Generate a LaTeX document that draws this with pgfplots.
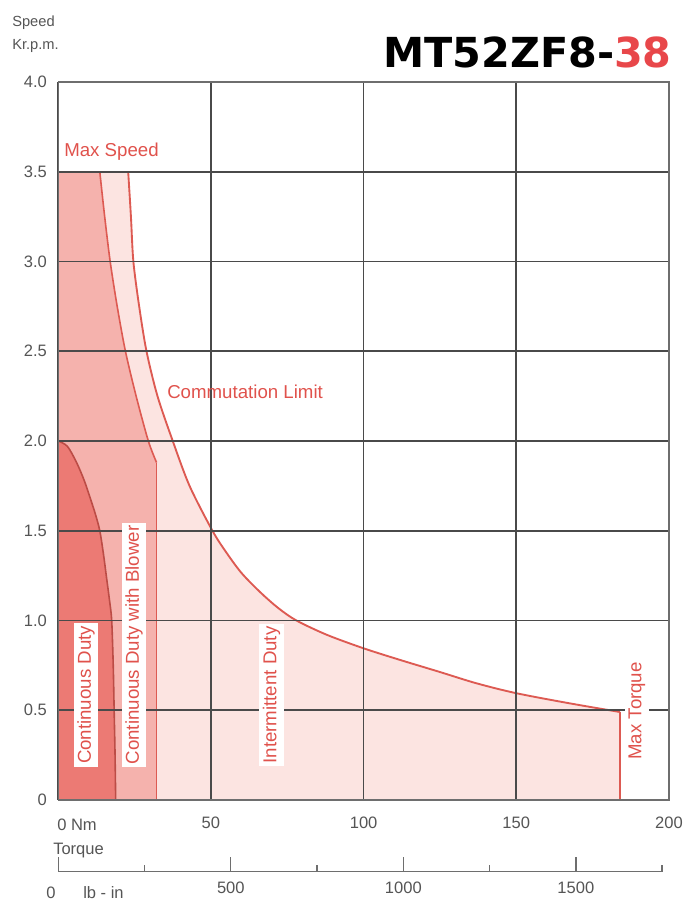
\documentclass[border=0pt]{standalone}
\usepackage{fontspec}
\setmainfont{Liberation Sans}
\newfontfamily\titlefont{DejaVu Sans}
\usepackage{pgfplots}
\pgfplotsset{compat=1.18}

\definecolor{contc}{HTML}{EC7A74}
\definecolor{blowc}{HTML}{F5B2AD}
\definecolor{intc}{HTML}{FCE4E1}
\definecolor{linec}{HTML}{DD5A52}
\definecolor{redtxt}{HTML}{E0524C}
\definecolor{titlered}{HTML}{E8474A}
\definecolor{gridc}{HTML}{4A4A4A}
\definecolor{framec}{HTML}{6E6E6E}
\definecolor{tickc}{HTML}{555555}

\newcommand\ticksize{\fontsize{12.4}{14}\selectfont}
\newcommand\lblsize{\fontsize{14}{16}\selectfont}

\begin{document}
\begin{tikzpicture}
\useasboundingbox (0,0) rectangle (519pt,680.25pt);

% speed vs torque
\begin{axis}[
  at={(43.7pt,80.25pt)}, anchor=south west,
  scale only axis, width=458pt, height=538.5pt,
  xmin=0, xmax=200, ymin=0, ymax=4,
  xtick={0,50,100,150,200}, xticklabels={,50,100,150,200},
  ytick={0,0.5,1,1.5,2,2.5,3,3.5,4},
  yticklabels={0,0.5,1.0,1.5,2.0,2.5,3.0,3.5,4.0},
  grid=major, major grid style={gridc, line width=1.2pt},
  axis line style={framec, line width=1.1pt},
  major tick length=0pt,
  tick label style={font=\ticksize, text=tickc},
  xticklabel style={yshift=-9pt},
  yticklabel style={xshift=-5pt},
  axis on top,
]
% intermittent duty (commutation limit)
\addplot[fill=intc, draw=none] coordinates {
  (0,0) (0,3.5) (22.9,3.5) (23.8,3.25) (24.6,3.0) (26.5,2.75) (28.9,2.5)
  (32.5,2.25) (37.5,2.0) (43.0,1.75) (50.5,1.5) (55,1.38) (60,1.265)
  (66,1.16) (72,1.07) (78,1.0) (88,0.92) (100,0.845) (112,0.78) (125,0.713)
  (137,0.65) (150,0.595) (167,0.54) (184,0.49) (184,0)
} -- cycle;
% continuous duty with blower
\addplot[fill=blowc, draw=none] coordinates {
  (0,0) (0,3.5) (13.6,3.5) (15.2,3.25) (17.0,3.0) (19.3,2.75) (22.0,2.5)
  (25.5,2.25) (29.5,2.0) (32.2,1.88) (32.2,0)
} -- cycle;
% continuous duty
\addplot[fill=contc, draw=none] coordinates {
  (0,0) (0,2.0) (3,1.97) (6,1.88) (8.5,1.78) (10.5,1.68) (12.2,1.59)
  (13.6,1.5) (14.8,1.37) (15.8,1.24) (16.8,1.11) (17.5,1.0) (18.0,0.75)
  (18.3,0.5) (18.6,0.25) (18.8,0)
} -- cycle;

% outlines
\addplot[linec, line width=1.5pt] coordinates {(0,3.5) (22.9,3.5)};
\addplot[linec, line width=1.4pt, smooth] coordinates {
  (22.9,3.5) (23.8,3.25) (24.6,3.0) (26.5,2.75) (28.9,2.5)
  (32.5,2.25) (37.5,2.0) (43.0,1.75) (50.5,1.5) (55,1.38) (60,1.265)
  (66,1.16) (72,1.07) (78,1.0) (88,0.92) (100,0.845) (112,0.78) (125,0.713)
  (137,0.65) (150,0.595) (167,0.54) (184,0.49)
};
\addplot[linec, line width=1.5pt] coordinates {(184,0.49) (184,0)};
\addplot[linec, line width=1.2pt, smooth] coordinates {
  (13.6,3.5) (15.2,3.25) (17.0,3.0) (19.3,2.75) (22.0,2.5)
  (25.5,2.25) (29.5,2.0) (32.2,1.88)
};
\addplot[linec, line width=1.2pt] coordinates {(32.2,1.88) (32.2,0)};
\addplot[linec!85!black, line width=1.2pt, smooth] coordinates {
  (0,2.0) (3,1.97) (6,1.88) (8.5,1.78) (10.5,1.68) (12.2,1.59)
  (13.6,1.5) (14.8,1.37) (15.8,1.24) (16.8,1.11) (17.5,1.0) (18.0,0.75)
  (18.3,0.5) (18.6,0.25) (18.8,0)
};
\addplot[linec, line width=1.5pt] coordinates {(0,0) (184,0)};
\end{axis}

% lb-in scale
\begin{axis}[
  at={(43.7pt,26.5pt)}, anchor=south west,
  scale only axis, width=452.9pt, height=5pt,
  xmin=0, xmax=1750, ymin=0, ymax=1,
  hide y axis, axis x line*=bottom,
  xtick={0,500,1000,1500}, xticklabels={,500,1000,1500},
  minor xtick={250,750,1250,1750},
  tick align=inside,
  major tick length=11pt, minor tick length=5pt,
  every tick/.style={framec, line width=1pt},
  axis line style={framec, line width=1.1pt},
  tick label style={font=\ticksize, text=tickc},
  xticklabel style={yshift=-4pt},
]
\end{axis}

\begin{scope}[x=0.75pt, y=-0.75pt, yshift=680.25pt]
  \node[anchor=west, font=\fontsize{11}{13}\selectfont, text=tickc, inner sep=0] at (12,23) {Speed};
  \node[anchor=west, font=\fontsize{11}{13}\selectfont, text=tickc, inner sep=0] at (12,46) {Kr.p.m.};
  \node[anchor=base east, inner sep=0, font=\titlefont\bfseries\fontsize{31}{31}\selectfont] at (672,68)
    {MT52ZF8-\textcolor{titlered}{38}};
  \node[anchor=west, inner sep=0, font=\lblsize, text=redtxt] at (64,152) {Max Speed};
  \node[anchor=west, inner sep=0, font=\lblsize, text=redtxt] at (167,392) {Commutation Limit};
  \node[fill=white, text=redtxt, rotate=90, inner xsep=2pt, inner ysep=2.5pt, font=\lblsize] at (86,695) {Continuous Duty};
  \node[fill=white, text=redtxt, rotate=90, inner xsep=2pt, inner ysep=2.5pt, font=\lblsize] at (134,645) {Continuous Duty with Blower};
  \node[fill=white, text=redtxt, rotate=90, inner xsep=2pt, inner ysep=2.5pt, font=\lblsize] at (271.5,695) {Intermittent Duty};
  \node[fill=white, text=redtxt, rotate=90, inner xsep=2pt, inner ysep=2.5pt, font=\lblsize] at (637,711) {Max Torque};
  \node[anchor=west, inner sep=0, font=\ticksize, text=tickc] at (57,825) {0 Nm};
  \node[anchor=west, inner sep=0, font=\ticksize, text=tickc] at (53,851) {Torque};
  \node[inner sep=0, font=\ticksize, text=tickc] at (51,893) {0};
  \node[anchor=west, inner sep=0, font=\ticksize, text=tickc] at (83,893) {lb - in};
\end{scope}
\end{tikzpicture}
\end{document}
